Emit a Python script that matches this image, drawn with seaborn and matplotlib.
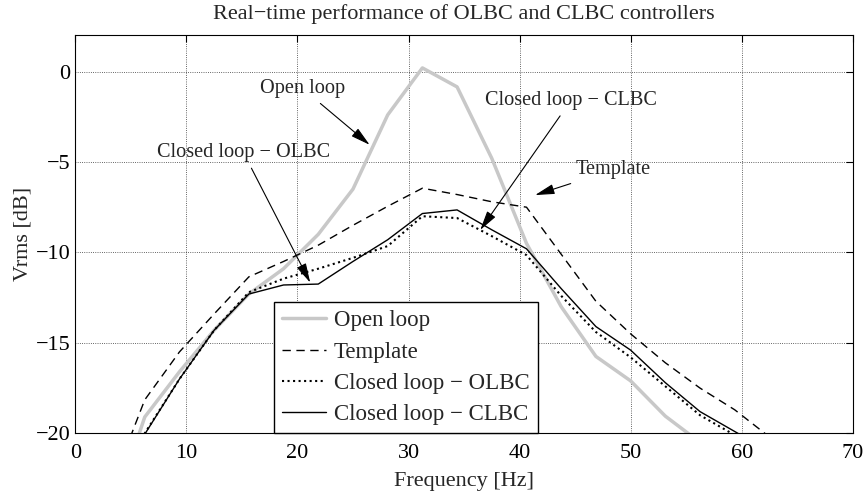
import numpy as np
import matplotlib
matplotlib.use("Agg")
import matplotlib.pyplot as plt
import seaborn as sns

freq = [3.125, 6.25, 9.375, 12.5, 15.625, 18.75, 21.875, 25.0, 28.125, 31.25,
        34.375, 37.5, 40.625, 43.75, 46.875, 50.0, 53.125, 56.25, 59.375, 62.5, 65.625]

open_loop = [-24.8, -19.1, -16.6, -14.3, -12.3, -10.9, -9.0, -6.5, -2.4, 0.2,
             -0.85, -4.8, -9.5, -13.0, -15.75, -17.1, -19.05, -20.5, -22.0, -23.5, -25.0]
template = [-23.1, -18.15, -15.5, -13.4, -11.35, -10.5, -9.6, -8.5, -7.45, -6.45,
            -6.8, -7.2, -7.5, -10.1, -12.7, -14.5, -16.1, -17.5, -18.7, -20.2, -21.5]
cl_olbc = [-23.5, -20.0, -17.0, -14.3, -12.2, -11.45, -10.9, -10.3, -9.65, -8.0,
           -8.1, -9.1, -10.15, -12.4, -14.4, -15.8, -17.4, -19.0, -20.1, -21.0, -22.0]
cl_clbc = [-23.5, -20.05, -17.0, -14.3, -12.3, -11.8, -11.75, -10.5, -9.3, -7.85,
           -7.65, -8.75, -9.8, -12.0, -14.1, -15.4, -17.2, -18.8, -19.9, -21.0, -22.0]

sns.set_style("white")
plt.rcParams['font.family'] = ['Liberation Serif', 'DejaVu Serif']
plt.rcParams['font.size'] = 15

fig = plt.figure(figsize=(8.65, 4.91), dpi=100)
ax = fig.add_axes([0.0871, 0.1175, 0.8987, 0.8105])

sns.lineplot(x=freq, y=open_loop, ax=ax, color='#c8c8c8', lw=2.5, label='Open loop', sort=False, estimator=None)
sns.lineplot(x=freq, y=template, ax=ax, color='black', lw=1.0, label='Template', sort=False, estimator=None)
ax.lines[-1].set_dashes([6, 4])
sns.lineplot(x=freq, y=cl_olbc, ax=ax, color='black', lw=1.5, label='Closed loop \u2212 OLBC', sort=False, estimator=None)
ax.lines[-1].set_linestyle(':')
sns.lineplot(x=freq, y=cl_clbc, ax=ax, color='black', lw=1.0, label='Closed loop \u2212 CLBC', sort=False, estimator=None)

ax.set_xlim(0, 70)
ax.set_ylim(-20, 2)
ax.set_xticks(np.arange(0, 71, 10))
ax.set_yticks(np.arange(-20, 1, 5))
ax.grid(True, linestyle=':', color='black', lw=0.6, alpha=0.8)
ax.tick_params(direction='in', length=5, top=True, right=True, labelsize=16, colors='black')
ax.tick_params(axis='x', pad=8)
for s in ax.spines.values():
    s.set_color('black')
    s.set_linewidth(0.8)

ax.set_title('Real\u2212time performance of OLBC and CLBC controllers', fontsize=16, pad=12)
ax.set_xlabel('Frequency [Hz]', fontsize=16, labelpad=6)
ax.set_ylabel('Vrms [dB]', fontsize=16, labelpad=2)

arrow = dict(arrowstyle='-|>,head_length=0.85,head_width=0.22', color='black', lw=0.8,
             mutation_scale=14, shrinkA=2, shrinkB=0)
ax.annotate('Open loop', xy=(26.5, -4.05), xytext=(20.5, -0.96), ha='center', va='center',
            fontsize=14.6, arrowprops=arrow)
ax.annotate('Closed loop \u2212 OLBC', xy=(21.15, -11.67), xytext=(15.15, -4.5), ha='center', va='center',
            fontsize=14.6, arrowprops=arrow)
ax.annotate('Closed loop \u2212 CLBC', xy=(36.46, -8.76), xytext=(44.6, -1.62), ha='center', va='center',
            fontsize=14.6, arrowprops=arrow)
ax.annotate('Template', xy=(41.4, -6.83), xytext=(48.4, -5.44), ha='center', va='center',
            fontsize=14.6, arrowprops=arrow)

ax.legend(loc='lower left', bbox_to_anchor=(0.256, 0.0), borderaxespad=0, fancybox=False,
          edgecolor='black', framealpha=1, fontsize=16.5, handlelength=1.9, handletextpad=0.35,
          labelspacing=0.45, borderpad=0.35)
ax.get_legend().get_frame().set_linewidth(1.0)

fig.savefig('out.png', dpi=100)
